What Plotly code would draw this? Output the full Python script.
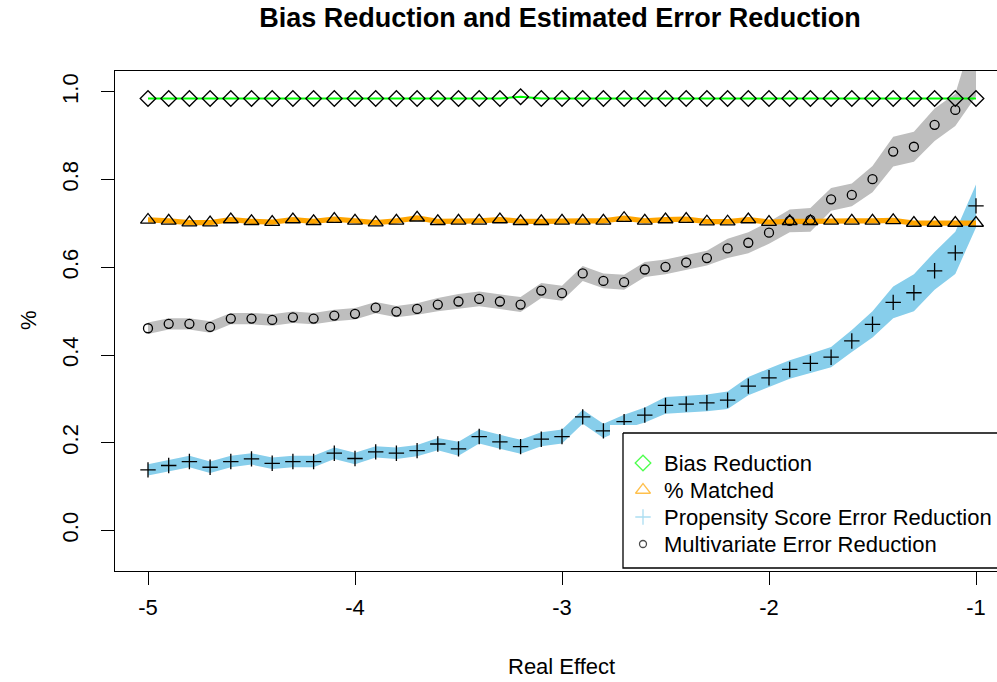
import plotly.graph_objects as go

# ---------------- data ----------------
real_effect = [-5.0, -4.9, -4.8, -4.7, -4.6, -4.5, -4.4, -4.3, -4.2, -4.1,
               -4.0, -3.9, -3.8, -3.7, -3.6, -3.5, -3.4, -3.3, -3.2, -3.1,
               -3.0, -2.9, -2.8, -2.7, -2.6, -2.5, -2.4, -2.3, -2.2, -2.1,
               -2.0, -1.9, -1.8, -1.7, -1.6, -1.5, -1.4, -1.3, -1.2, -1.1, -1.0]

bias_reduction = [0.985, 0.985, 0.985, 0.985, 0.985, 0.985, 0.985, 0.985, 0.985, 0.985,
                  0.985, 0.985, 0.985, 0.985, 0.985, 0.985, 0.985, 0.985, 0.989, 0.985,
                  0.985, 0.985, 0.985, 0.985, 0.985, 0.985, 0.985, 0.985, 0.985, 0.985,
                  0.985, 0.985, 0.985, 0.985, 0.985, 0.985, 0.985, 0.985, 0.985, 0.985, 0.985]

pct_matched = [0.708, 0.706, 0.702, 0.702, 0.709, 0.705, 0.703, 0.709, 0.705, 0.710,
               0.706, 0.702, 0.706, 0.713, 0.705, 0.706, 0.706, 0.709, 0.705, 0.705,
               0.706, 0.706, 0.706, 0.712, 0.706, 0.709, 0.710, 0.704, 0.704, 0.709,
               0.703, 0.705, 0.705, 0.706, 0.706, 0.706, 0.707, 0.701, 0.701, 0.701, 0.701]
matched_band_halfwidth = [0.006] * 41

ps_error_reduction = [0.138, 0.148, 0.157, 0.144, 0.157, 0.163, 0.153, 0.157, 0.157, 0.176,
                      0.164, 0.179, 0.176, 0.182, 0.197, 0.186, 0.214, 0.202, 0.191, 0.208,
                      0.214, 0.259, 0.227, 0.248, 0.263, 0.285, 0.288, 0.291, 0.297, 0.329,
                      0.348, 0.367, 0.381, 0.395, 0.432, 0.470, 0.520, 0.542, 0.592, 0.633, 0.740]
ps_band_halfwidth = [0.013, 0.013, 0.013, 0.013, 0.013, 0.013, 0.013, 0.013, 0.013, 0.013,
                     0.013, 0.013, 0.013, 0.013, 0.014, 0.016, 0.016, 0.016, 0.016, 0.016,
                     0.016, 0.016, 0.016, 0.016, 0.017, 0.019, 0.019, 0.019, 0.020, 0.021,
                     0.021, 0.021, 0.022, 0.023, 0.025, 0.030, 0.036, 0.042, 0.043, 0.048, 0.049]

mv_error_reduction = [0.461, 0.471, 0.471, 0.464, 0.483, 0.483, 0.480, 0.486, 0.483, 0.490,
                      0.494, 0.508, 0.499, 0.505, 0.515, 0.522, 0.528, 0.522, 0.515, 0.547,
                      0.541, 0.586, 0.569, 0.566, 0.595, 0.601, 0.611, 0.621, 0.643, 0.656,
                      0.679, 0.706, 0.708, 0.755, 0.765, 0.801, 0.864, 0.875, 0.925, 0.959, 1.070]
mv_band_halfwidth = [0.013, 0.013, 0.013, 0.013, 0.013, 0.013, 0.013, 0.013, 0.013, 0.013,
                     0.013, 0.013, 0.013, 0.013, 0.015, 0.017, 0.017, 0.017, 0.017, 0.017,
                     0.017, 0.017, 0.017, 0.017, 0.017, 0.017, 0.017, 0.017, 0.022, 0.024,
                     0.025, 0.026, 0.027, 0.026, 0.026, 0.030, 0.034, 0.034, 0.037, 0.037, 0.080]

x_ticks = [-5, -4, -3, -2, -1]
y_ticks = [0.0, 0.2, 0.4, 0.6, 0.8, 1.0]
y_tick_labels = ["0.0", "0.2", "0.4", "0.6", "0.8", "1.0"]

legend_labels = ["Bias Reduction", "% Matched",
                 "Propensity Score Error Reduction", "Multivariate Error Reduction"]
legend_colors = ["#00FF00", "#FFA500", "#87CEEB", "#000000"]
legend_symbols = ["diamond-open", "triangle-up-open", "cross-thin-open", "circle-open"]
legend_sizes = [12, 13, 11, 7]

# ---------------- layout constants ----------------
W, H = 997, 682
ML, MR, MT, MB = 115, 0, 71, 111
PW, PH = W - ML - MR, H - MT - MB
FONT = "Liberation Sans, Arial, sans-serif"
LW = 1.3


def px_to_paper_x(px):
    return (px - ML) / PW


def px_to_paper_y(py):
    return (H - MB - py) / PH


def band(center, hw, sign):
    return [c + sign * h for c, h in zip(center, hw)]


fig = go.Figure()

# ribbons
for center, hw, color in [(mv_error_reduction, mv_band_halfwidth, "#BEBEBE"),
                          (ps_error_reduction, ps_band_halfwidth, "#87CEEB"),
                          (pct_matched, matched_band_halfwidth, "#FFA500")]:
    fig.add_trace(go.Scatter(x=real_effect, y=band(center, hw, +1), mode="lines",
                             line=dict(width=0, color=color), showlegend=False,
                             hoverinfo="skip"))
    fig.add_trace(go.Scatter(x=real_effect, y=band(center, hw, -1), mode="lines",
                             line=dict(width=0, color=color), fill="tonexty",
                             fillcolor=color, showlegend=False, hoverinfo="skip"))

# green bias line
fig.add_trace(go.Scatter(x=real_effect, y=bias_reduction, mode="lines",
                         line=dict(color="#00FF00", width=2), showlegend=False))

# point markers (black)
for vals, sym, size in [(bias_reduction, "diamond-open", 12),
                        (pct_matched, "triangle-up-open", 13),
                        (ps_error_reduction, "cross-thin-open", 11),
                        (mv_error_reduction, "circle-open", 9)]:
    fig.add_trace(go.Scatter(x=real_effect, y=vals, mode="markers",
                             marker=dict(symbol=sym, size=size, color="black",
                                         line=dict(width=LW, color="black")),
                             cliponaxis=True, showlegend=False))

# ---------------- legend drawn on its own small axes ----------------
LEG_LEFT, LEG_TOP, LEG_BOTTOM = 623, 433, 568
ROW0, ROW_GAP = 30, 27
SYM_X, TEXT_X = 20, 39
box_h = LEG_BOTTOM - LEG_TOP
fig.add_trace(go.Scatter(x=[0, 420, 420, 0, 0], y=[0, 0, box_h, box_h, 0],
                         xaxis="x2", yaxis="y2", mode="lines", fill="toself",
                         fillcolor="white", line=dict(color="black", width=LW),
                         showlegend=False, hoverinfo="skip"))
rows = [ROW0 + i * ROW_GAP for i in range(len(legend_labels))]
fig.add_trace(go.Scatter(x=[SYM_X] * len(rows), y=rows, xaxis="x2", yaxis="y2",
                         mode="markers",
                         marker=dict(symbol=legend_symbols, size=legend_sizes,
                                     color=legend_colors,
                                     line=dict(width=LW, color=legend_colors)),
                         showlegend=False, hoverinfo="skip"))
for lab, r in zip(legend_labels, rows):
    fig.add_annotation(x=TEXT_X, y=r, xref="x2", yref="y2", text=lab,
                       showarrow=False, xanchor="left", yanchor="middle",
                       font=dict(family=FONT, size=22, color="black"))

# axis titles
fig.add_annotation(x=px_to_paper_x(561), y=px_to_paper_y(666), xref="paper", yref="paper",
                   text="Real Effect", showarrow=False, xanchor="center", yanchor="middle",
                   font=dict(family=FONT, size=22, color="black"))
fig.add_annotation(x=px_to_paper_x(28), y=px_to_paper_y(320), xref="paper", yref="paper",
                   text="%", showarrow=False, textangle=-90, xanchor="center",
                   yanchor="middle", font=dict(family=FONT, size=22, color="black"))

leg_x0 = 610
fig.update_layout(
    width=W, height=H,
    margin=dict(l=ML, r=MR, t=MT, b=MB, pad=0),
    paper_bgcolor="white", plot_bgcolor="white",
    font=dict(family=FONT, size=22, color="black"),
    showlegend=False,
    hovermode=False,
    title=dict(text="<b>Bias Reduction and Estimated Error Reduction</b>",
               font=dict(family=FONT, size=27, color="black"),
               x=560 / W, xref="container", xanchor="center",
               y=1 - 18 / H, yref="container", yanchor="middle"),
    xaxis=dict(range=[-5 - 33 / 207, -1 + 21 / 207], tickvals=x_ticks,
               ticktext=[str(v) for v in x_ticks],
               showgrid=False, zeroline=False, showline=True, mirror=True,
               linecolor="black", linewidth=LW, ticks="outside", ticklen=13,
               tickwidth=LW, tickcolor="black", ticklabelstandoff=3,
               tickfont=dict(family=FONT, size=22, color="black")),
    yaxis=dict(range=[-0.0926, 1.0477], tickvals=y_ticks, ticktext=y_tick_labels,
               showgrid=False, zeroline=False, showline=True, mirror=False,
               linecolor="black", linewidth=LW, ticks="outside", ticklen=13,
               tickwidth=LW, tickcolor="black", tickangle=-90, ticklabelstandoff=14,
               tickfont=dict(family=FONT, size=22, color="black")),
    xaxis2=dict(domain=[px_to_paper_x(leg_x0), 1], range=[leg_x0 - LEG_LEFT, W - LEG_LEFT],
                anchor="y2", visible=False, fixedrange=True),
    yaxis2=dict(domain=[0, px_to_paper_y(LEG_TOP - 8)],
                range=[(H - MB) - LEG_TOP, -8], anchor="x2", visible=False,
                fixedrange=True),
)

fig.write_html("out.html", config={"displayModeBar": False},
               post_script="document.body.style.margin='0px';"
                           "document.body.style.overflow='hidden';")
